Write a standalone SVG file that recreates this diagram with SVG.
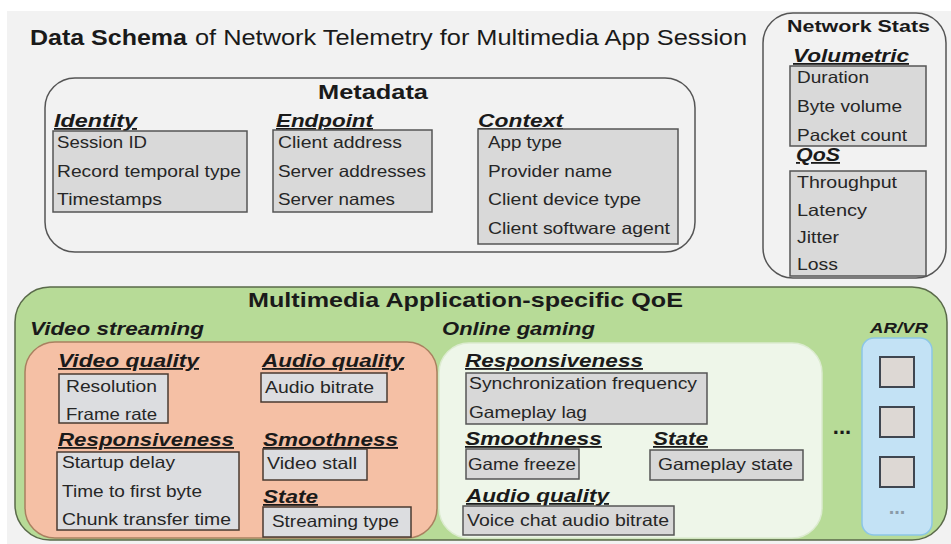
<svg xmlns="http://www.w3.org/2000/svg" width="951" height="544" viewBox="0 0 951 544">
<style>
text{font-family:"Liberation Sans",Arial,sans-serif;fill:#1a1a1a}
.t{font-size:22px}
.tb{font-size:22px;font-weight:bold}
.h{font-size:20px;font-weight:bold}
.lab{font-size:18px;font-weight:bold;font-style:italic;text-decoration:underline}
.grp{font-size:18px;font-weight:bold;font-style:italic}
.it{font-size:16.5px;fill:#262626}
.outer{fill:#f2f2f2;stroke:#555;stroke-width:1.5}
.box{fill:#d9d9d9;stroke:#555;stroke-width:1.5}
.vbox{fill:#dcdde0;stroke:#4a3a30;stroke-width:1.5}
.gbox{fill:#d8d8d8;stroke:#555;stroke-width:1.5}
.sq{fill:#ddd8d4;stroke:#3f4650;stroke-width:2}
</style>
<rect x="7" y="11" width="944" height="533" fill="#f2f2f2"/>
<g id="connectors"/>
<g id="title">
<text class="tb" x="30" y="45" textLength="157" lengthAdjust="spacingAndGlyphs">Data Schema</text>
<text class="t" x="195" y="45" textLength="552" lengthAdjust="spacingAndGlyphs">of Network Telemetry for Multimedia App Session</text>
</g>
<g id="metadata">
<rect class="outer" x="45" y="78" width="650" height="174" rx="30"/>
<text class="h" x="318" y="99" textLength="110" lengthAdjust="spacingAndGlyphs">Metadata</text>
</g>
<g id="identity">
<text class="lab" x="54" y="127" textLength="83" lengthAdjust="spacingAndGlyphs">Identity</text>
<rect class="box" x="53" y="131" width="194" height="81"/>
<text class="it" x="57" y="148" textLength="90" lengthAdjust="spacingAndGlyphs">Session ID</text>
<text class="it" x="57" y="177" textLength="184" lengthAdjust="spacingAndGlyphs">Record temporal type</text>
<text class="it" x="57" y="205" textLength="105" lengthAdjust="spacingAndGlyphs">Timestamps</text>
</g>
<g id="endpoint">
<text class="lab" x="276" y="127" textLength="97" lengthAdjust="spacingAndGlyphs">Endpoint</text>
<rect class="box" x="273" y="130" width="159" height="82"/>
<text class="it" x="278" y="148" textLength="124" lengthAdjust="spacingAndGlyphs">Client address</text>
<text class="it" x="278" y="177" textLength="148" lengthAdjust="spacingAndGlyphs">Server addresses</text>
<text class="it" x="278" y="205" textLength="117" lengthAdjust="spacingAndGlyphs">Server names</text>
</g>
<g id="context">
<text class="lab" x="478" y="127" textLength="85" lengthAdjust="spacingAndGlyphs">Context</text>
<rect class="box" x="478" y="129" width="200" height="115"/>
<text class="it" x="488" y="148" textLength="74" lengthAdjust="spacingAndGlyphs">App type</text>
<text class="it" x="488" y="177" textLength="124" lengthAdjust="spacingAndGlyphs">Provider name</text>
<text class="it" x="488" y="205" textLength="153" lengthAdjust="spacingAndGlyphs">Client device type</text>
<text class="it" x="488" y="234" textLength="182" lengthAdjust="spacingAndGlyphs">Client software agent</text>
</g>
<g id="network-stats">
<rect class="outer" x="763" y="13" width="183" height="265" rx="30"/>
<text class="h" x="787" y="32" style="font-size:17px" textLength="143" lengthAdjust="spacingAndGlyphs">Network Stats</text>
</g>
<g id="volumetric">
<text class="lab" x="793" y="62" textLength="116" lengthAdjust="spacingAndGlyphs">Volumetric</text>
<rect class="box" x="790" y="66" width="136" height="80"/>
<text class="it" x="797" y="83" textLength="72" lengthAdjust="spacingAndGlyphs">Duration</text>
<text class="it" x="797" y="112" textLength="105" lengthAdjust="spacingAndGlyphs">Byte volume</text>
<text class="it" x="797" y="141" textLength="110" lengthAdjust="spacingAndGlyphs">Packet count</text>
</g>
<g id="qos">
<text class="lab" x="796" y="161" textLength="44" lengthAdjust="spacingAndGlyphs">QoS</text>
<rect class="box" x="790" y="171" width="136" height="105"/>
<text class="it" x="797" y="188" textLength="100" lengthAdjust="spacingAndGlyphs">Throughput</text>
<text class="it" x="797" y="216" textLength="70" lengthAdjust="spacingAndGlyphs">Latency</text>
<text class="it" x="797" y="243" textLength="42" lengthAdjust="spacingAndGlyphs">Jitter</text>
<text class="it" x="797" y="270" textLength="41" lengthAdjust="spacingAndGlyphs">Loss</text>
</g>
<g id="qoe">
<rect x="15" y="287" width="932" height="253" rx="35" fill="#b7db97" stroke="#5a6a4a" stroke-width="1.5"/>
<text class="h" x="248" y="307" style="font-size:21px" textLength="435" lengthAdjust="spacingAndGlyphs">Multimedia Application-specific QoE</text>
</g>
<g id="video-streaming">
<text class="grp" x="30" y="335" textLength="174" lengthAdjust="spacingAndGlyphs">Video streaming</text>
<rect x="25" y="342" width="412" height="196" rx="30" fill="#f5c0a5" stroke="#a98060" stroke-width="1.5"/>
</g>
<g id="video-quality">
<text class="lab" x="58" y="367" textLength="141" lengthAdjust="spacingAndGlyphs">Video quality</text>
<rect class="vbox" x="59" y="374" width="109" height="49"/>
<text class="it" x="66" y="392" textLength="91" lengthAdjust="spacingAndGlyphs">Resolution</text>
<text class="it" x="66" y="420" textLength="91" lengthAdjust="spacingAndGlyphs">Frame rate</text>
</g>
<g id="audio-quality">
<text class="lab" x="262" y="367" textLength="142" lengthAdjust="spacingAndGlyphs">Audio quality</text>
<rect class="vbox" x="261" y="373" width="126" height="29"/>
<text class="it" x="265" y="393" textLength="109" lengthAdjust="spacingAndGlyphs">Audio bitrate</text>
</g>
<g id="vs-responsiveness">
<text class="lab" x="58" y="446" textLength="176" lengthAdjust="spacingAndGlyphs">Responsiveness</text>
<rect class="vbox" x="57" y="452" width="182" height="78"/>
<text class="it" x="62" y="468" textLength="113" lengthAdjust="spacingAndGlyphs">Startup delay</text>
<text class="it" x="62" y="497" textLength="140" lengthAdjust="spacingAndGlyphs">Time to first byte</text>
<text class="it" x="62" y="525" textLength="169" lengthAdjust="spacingAndGlyphs">Chunk transfer time</text>
</g>
<g id="vs-smoothness">
<text class="lab" x="263" y="446" textLength="135" lengthAdjust="spacingAndGlyphs">Smoothness</text>
<rect class="vbox" x="263" y="449" width="104" height="31"/>
<text class="it" x="267" y="469" textLength="90" lengthAdjust="spacingAndGlyphs">Video stall</text>
</g>
<g id="vs-state">
<text class="lab" x="263" y="503" textLength="55" lengthAdjust="spacingAndGlyphs">State</text>
<rect class="vbox" x="263" y="507" width="148" height="30"/>
<text class="it" x="272" y="527" textLength="127" lengthAdjust="spacingAndGlyphs">Streaming type</text>
</g>
<g id="online-gaming">
<text class="grp" x="442" y="335" textLength="153" lengthAdjust="spacingAndGlyphs">Online gaming</text>
<rect x="439" y="343" width="383" height="195" rx="30" fill="#eef6e9" stroke="#dcebd0" stroke-width="1.5"/>
</g>
<g id="og-responsiveness">
<text class="lab" x="465" y="367" textLength="178" lengthAdjust="spacingAndGlyphs">Responsiveness</text>
<rect class="gbox" x="466" y="373" width="241" height="51"/>
<text class="it" x="469" y="389" textLength="228" lengthAdjust="spacingAndGlyphs">Synchronization frequency</text>
<text class="it" x="469" y="418" textLength="118" lengthAdjust="spacingAndGlyphs">Gameplay lag</text>
</g>
<g id="og-smoothness">
<text class="lab" x="465" y="445" textLength="137" lengthAdjust="spacingAndGlyphs">Smoothness</text>
<rect class="gbox" x="466" y="449" width="113" height="30"/>
<text class="it" x="468" y="470" textLength="108" lengthAdjust="spacingAndGlyphs">Game freeze</text>
</g>
<g id="og-state">
<text class="lab" x="653" y="445" textLength="55" lengthAdjust="spacingAndGlyphs">State</text>
<rect class="gbox" x="650" y="450" width="153" height="30"/>
<text class="it" x="658" y="470" textLength="135" lengthAdjust="spacingAndGlyphs">Gameplay state</text>
</g>
<g id="og-audio-quality">
<text class="lab" x="466" y="502" textLength="143" lengthAdjust="spacingAndGlyphs">Audio quality</text>
<rect class="gbox" x="463" y="506" width="211" height="29"/>
<text class="it" x="467" y="526" textLength="202" lengthAdjust="spacingAndGlyphs">Voice chat audio bitrate</text>
</g>
<g id="ellipsis">
<text x="842" y="434" text-anchor="middle" style="font-size:22px;font-weight:bold">...</text>
</g>
<g id="arvr">
<text class="grp" x="870" y="333" style="font-size:14px" textLength="58" lengthAdjust="spacingAndGlyphs">AR/VR</text>
<rect x="862" y="338" width="70" height="197" rx="12" fill="#c3e2f5" stroke="#8cc6e6" stroke-width="1.5"/>
<rect class="sq" x="880" y="357" width="34" height="30"/>
<rect class="sq" x="880" y="407" width="34" height="30"/>
<rect class="sq" x="880" y="457" width="34" height="30"/>
<text x="897" y="514" text-anchor="middle" style="font-size:20px;font-weight:bold;fill:#8a9aa8">...</text>
</g>
</svg>
